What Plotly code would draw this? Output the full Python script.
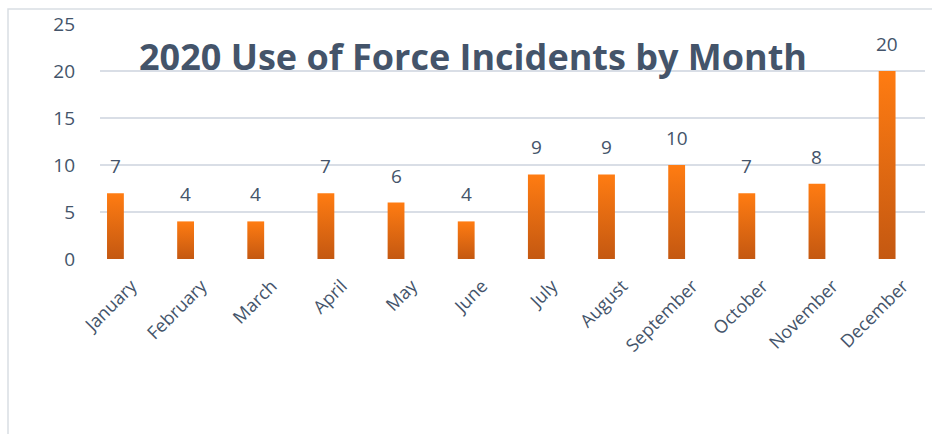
import plotly.graph_objects as go

months = ["January", "February", "March", "April", "May", "June", "July",
          "August", "September", "October", "November", "December"]
incidents = [7, 4, 4, 7, 6, 4, 9, 9, 10, 7, 8, 20]
title_text = "2020 Use of Force Incidents by Month"
y_ticks = [0, 5, 10, 15, 20, 25]

TEXT = "#44546A"
GRID = "#D9DEE6"
TOP = "#FF7C12"
BOTTOM = "#C45811"
FONT = "Open Sans"

W, H = 932, 434
ML, MR, MT, MB = 100, 7, 24, 175
BAR_W = 0.24

fig = go.Figure()
for i, (m, v) in enumerate(zip(months, incidents)):
    x0, x1 = i - BAR_W / 2, i + BAR_W / 2
    fig.add_trace(go.Scatter(
        x=[x0, x1, x1, x0, x0], y=[0, 0, v, v, 0],
        mode="lines", line=dict(width=0), fill="toself",
        fillgradient=dict(type="vertical", colorscale=[[0, BOTTOM], [1, TOP]]),
        hoverinfo="text", text=f"{m}: {v}", showlegend=False,
    ))
    fig.add_annotation(x=i, y=v, text=str(v), showarrow=False,
                       yanchor="bottom", yshift=12,
                       font=dict(family=FONT, size=19, color=TEXT))

fig.add_annotation(xref="paper", yref="paper", x=(473 - ML) / (W - ML - MR),
                   y=1 - (57 - MT) / (H - MT - MB),
                   text=f"<b>{title_text}</b>", showarrow=False,
                   xanchor="center", yanchor="middle",
                   font=dict(family=FONT, size=36, color=TEXT))

# outer chart border
fig.add_shape(type="rect", xref="paper", yref="paper",
              x0=(8 - ML) / (W - ML - MR), x1=1.2,
              y0=-1.2, y1=1 + (MT - 9) / (H - MT - MB),
              line=dict(color="#D9DEE3", width=1.5), layer="below")

fig.update_layout(
    width=W, height=H,
    margin=dict(l=ML, r=MR, t=MT, b=MB),
    plot_bgcolor="white", paper_bgcolor="white",
    xaxis=dict(range=[-0.22, 11.54], tickmode="array",
               tickvals=list(range(len(months))), ticktext=months,
               tickangle=-45, showgrid=False, zeroline=False,
               tickfont=dict(family=FONT, size=18, color=TEXT),
               ticks="", showline=False,
               ticklabelstandoff=12, ticklabelshift=16),
    yaxis=dict(range=[0, 25], tickvals=y_ticks, showgrid=True,
               gridcolor=GRID, gridwidth=1.5, zeroline=False,
               tickfont=dict(family=FONT, size=19, color=TEXT),
               ticks="", ticklabelstandoff=24),
)

fig.write_html("out.html")
